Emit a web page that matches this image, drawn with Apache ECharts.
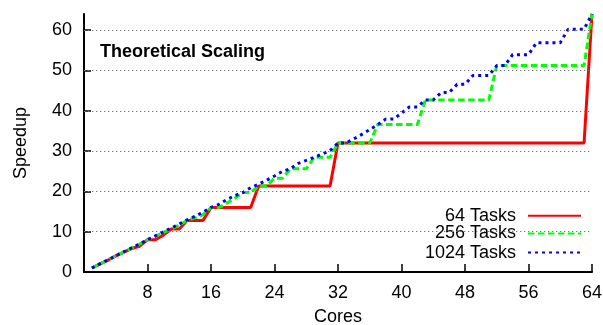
<!DOCTYPE html>
<html><head><meta charset="utf-8">
<script src="https://cdn.jsdelivr.net/npm/echarts@6/dist/echarts.min.js"></script>
<style>html,body{margin:0;padding:0;background:#fff}#c{width:603px;height:325px}</style>
</head><body><div id="c"></div>
<script>
const cores = [1,2,3,4,5,6,7,8,9,10,11,12,13,14,15,16,17,18,19,20,21,22,23,24,25,26,27,28,29,30,31,32,
  33,34,35,36,37,38,39,40,41,42,43,44,45,46,47,48,49,50,51,52,53,54,55,56,57,58,59,60,61,62,63,64];
const tasks64 = [1,2,2.909,4,4.923,5.818,6.4,8,8,9.143,10.667,10.667,12.8,12.8,12.8,16,
  16,16,16,16,16,21.333,21.333,21.333,21.333,21.333,21.333,21.333,21.333,21.333,21.333,32,
  32,32,32,32,32,32,32,32,32,32,32,32,32,32,32,32,
  32,32,32,32,32,32,32,32,32,32,32,32,32,32,32,64];
const tasks256 = [1,2,2.977,4,4.923,5.953,6.919,8,8.828,9.846,10.667,11.636,12.8,13.474,14.222,16,
  16,17.067,18.286,19.692,19.692,21.333,21.333,23.273,23.273,25.6,25.6,25.6,28.444,28.444,28.444,32,
  32,32,32,32,36.571,36.571,36.571,36.571,36.571,36.571,42.667,42.667,42.667,42.667,42.667,42.667,
  42.667,42.667,42.667,51.2,51.2,51.2,51.2,51.2,51.2,51.2,51.2,51.2,51.2,51.2,51.2,64];
const tasks1024 = [1,2,2.994,4,4.995,5.988,6.966,8,8.982,9.942,10.894,11.907,12.962,13.838,14.841,16,
  16.787,17.965,18.963,19.692,20.898,21.787,22.756,23.814,24.976,25.6,26.947,27.676,28.444,29.257,30.118,32,
  32,33.032,34.133,35.310,36.571,37.926,37.926,39.385,40.96,40.96,42.667,42.667,44.522,44.522,46.545,46.545,
  48.762,48.762,48.762,51.2,51.2,53.895,53.895,53.895,56.889,56.889,56.889,56.889,60.235,60.235,60.235,64];
const seriesNames = ['64 Tasks','256 Tasks','1024 Tasks'];
const gridTicks = [10,20,30,40,50,60];

const FONT = '"Liberation Sans", Arial, Helvetica, sans-serif';
const pairs = arr => cores.map((c,i) => [c, arr[i]]);

const chart = echarts.init(document.getElementById('c'), null, {renderer:'canvas'});
const legendBase = {
  orient:'vertical', align:'right', itemWidth:53, itemHeight:14, itemGap:0,
  selectedMode:false,
  itemStyle:{opacity:0},
  textStyle:{fontFamily:FONT, fontSize:18, color:'#000', lineHeight:18, padding:[0,7,0,0]}
};
chart.setOption({
  animation:false,
  backgroundColor:'#fff',
  title:{text:'Theoretical Scaling', left:100, top:43, padding:0,
    textStyle:{fontFamily:FONT, fontSize:18, fontWeight:'bold', color:'#000'}},
  legend:[
    Object.assign({}, legendBase, {data:[seriesNames[1]], right:11, top:221.5, z:3,
      padding:[3,10,3,27], backgroundColor:'#fff'}),
    Object.assign({}, legendBase, {data:[seriesNames[0]], right:21, top:206.8, padding:0}),
    Object.assign({}, legendBase, {data:[seriesNames[2]], right:21, top:243.6, padding:0})
  ],
  grid:{left:84, right:11, top:14, bottom:53, containLabel:false, outerBoundsMode:'none'},
  xAxis:{type:'value', min:0, max:64, interval:8,
    name:'Cores', nameLocation:'middle', nameGap:36,
    nameTextStyle:{fontFamily:FONT, fontSize:18, color:'#000'},
    axisLine:{lineStyle:{color:'#000', width:2}},
    axisTick:{inside:true, length:8, lineStyle:{color:'#000', width:1.5}},
    axisLabel:{fontFamily:FONT, fontSize:18, color:'#000', margin:12, showMinLabel:false,
      formatter: v => v === 0 ? '' : String(v)},
    splitLine:{show:false}},
  yAxis:{type:'value', min:0, max:64, interval:10,
    name:'Speedup', nameLocation:'middle', nameGap:54, nameRotate:90,
    nameTextStyle:{fontFamily:FONT, fontSize:18, color:'#000'},
    axisLine:{show:true, lineStyle:{color:'#000', width:2}},
    axisTick:{show:true, inside:true, length:7, lineStyle:{color:'#000', width:1.5}},
    axisLabel:{fontFamily:FONT, fontSize:18, color:'#000', margin:12, showMaxLabel:false,
      formatter: v => (v % 10 === 0) ? String(v) : ''},
    splitLine:{show:false}},
  series:[
    {name:seriesNames[0], type:'line', data:pairs(tasks64), symbol:'none', smooth:false,
      lineStyle:{color:'#ff0000', width:3, type:'solid'}, itemStyle:{color:'#ff0000'},
      markLine:{silent:true, symbol:'none', label:{show:false}, animation:false,
        lineStyle:{color:'#777', width:1, type:[1.3,2.7]},
        data: gridTicks.map(v => ({yAxis:v}))}},
    {name:seriesNames[1], type:'line', data:pairs(tasks256), symbol:'none',
      lineStyle:{color:'#00ff00', width:3, type:[6.5,3.5]}, itemStyle:{color:'#00ff00'}},
    {name:seriesNames[2], type:'line', data:pairs(tasks1024), symbol:'none',
      lineStyle:{color:'#0000ff', width:3, type:[3,4]}, itemStyle:{color:'#0000ff'}}
  ]
});
</script>
</body></html>
